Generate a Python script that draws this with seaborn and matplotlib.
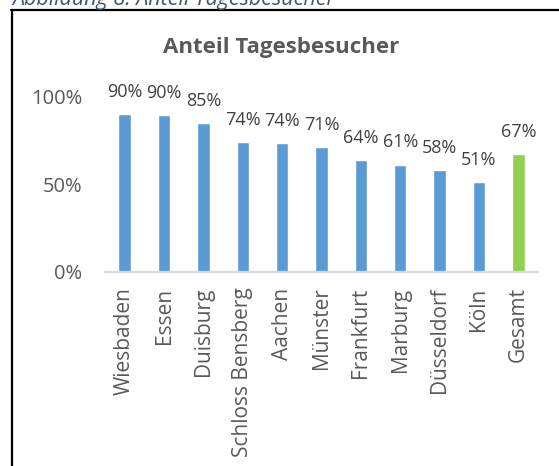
import matplotlib
matplotlib.use("Agg")
import matplotlib.pyplot as plt
from matplotlib.lines import Line2D
import seaborn as sns
import pandas as pd

categories = ["Wiesbaden", "Essen", "Duisburg", "Schloss Bensberg", "Aachen",
              "Münster", "Frankfurt", "Marburg", "Düsseldorf", "Köln", "Gesamt"]
values = [0.90, 0.895, 0.85, 0.742, 0.736, 0.712, 0.637, 0.612, 0.58, 0.513, 0.672]
value_labels = ["90%", "90%", "85%", "74%", "74%", "71%", "64%", "61%", "58%", "51%", "67%"]
groups = ["Stadt"] * 10 + ["Gesamt"]
yticks = [0.0, 0.5, 1.0]
ytick_labels = ["0%", "50%", "100%"]
title = "Anteil Tagesbesucher"
caption = "Abbildung 8: Anteil Tagesbesucher"

sns.set_theme(style="white")
plt.rcParams["font.family"] = ["Open Sans", "DejaVu Sans"]

W, H = 559, 466
fig = plt.figure(figsize=(W / 100, H / 100), dpi=100)
fig.patch.set_facecolor("white")

ax = fig.add_axes([105 / W, 1 - 271.5 / H, 433 / W, 174.5 / H])

df = pd.DataFrame({"cat": categories, "val": values, "group": groups})
sns.barplot(data=df, x="cat", y="val", hue="group",
            palette={"Stadt": "#5B9BD5", "Gesamt": "#92D050"},
            width=0.315, dodge=False, legend=False, ax=ax, saturation=1)

ax.set_xlim(-0.5, len(categories) - 0.5)
ax.set_ylim(0, 1)
ax.set_xlabel("")
ax.set_ylabel("")
ax.set_yticks(yticks)
ax.set_yticklabels(ytick_labels)
ax.tick_params(axis="y", length=0, pad=16.5, labelsize=14.5, labelcolor="#595959")
ax.tick_params(axis="x", length=0, pad=11.5, labelsize=15, labelcolor="#595959")
for lab in ax.get_xticklabels():
    lab.set_rotation(90)
    lab.set_va("top")
    lab.set_ha("center")

for s in ["left", "top", "right"]:
    ax.spines[s].set_visible(False)
ax.spines["bottom"].set_color("#D9D9D9")
ax.spines["bottom"].set_linewidth(1.6)
ax.grid(False)
ax.set_facecolor("white")

for i, (v, t) in enumerate(zip(values, value_labels)):
    ax.annotate(t, xy=(i, v), xytext=(0, 12.5), textcoords="offset points",
                ha="center", va="baseline", fontsize=13, color="#404040",
                annotation_clip=False)

fig.text(281 / W, 1 - 53 / H, title, ha="center", va="baseline",
         fontsize=16, fontweight="bold", color="#595959")

fig.text(12 / W, 1 - 5.5 / H, caption, ha="left", va="baseline",
         fontsize=15.5, style="italic", color="#44546A")

fig.add_artist(Line2D([11 / W, 1], [1 - 10 / H, 1 - 10 / H],
                      transform=fig.transFigure, color="black", lw=1.6))
fig.add_artist(Line2D([11.5 / W, 11.5 / W], [0, 1 - 10 / H],
                      transform=fig.transFigure, color="black", lw=1.6))

fig.savefig("out.png", dpi=100, facecolor="white")
